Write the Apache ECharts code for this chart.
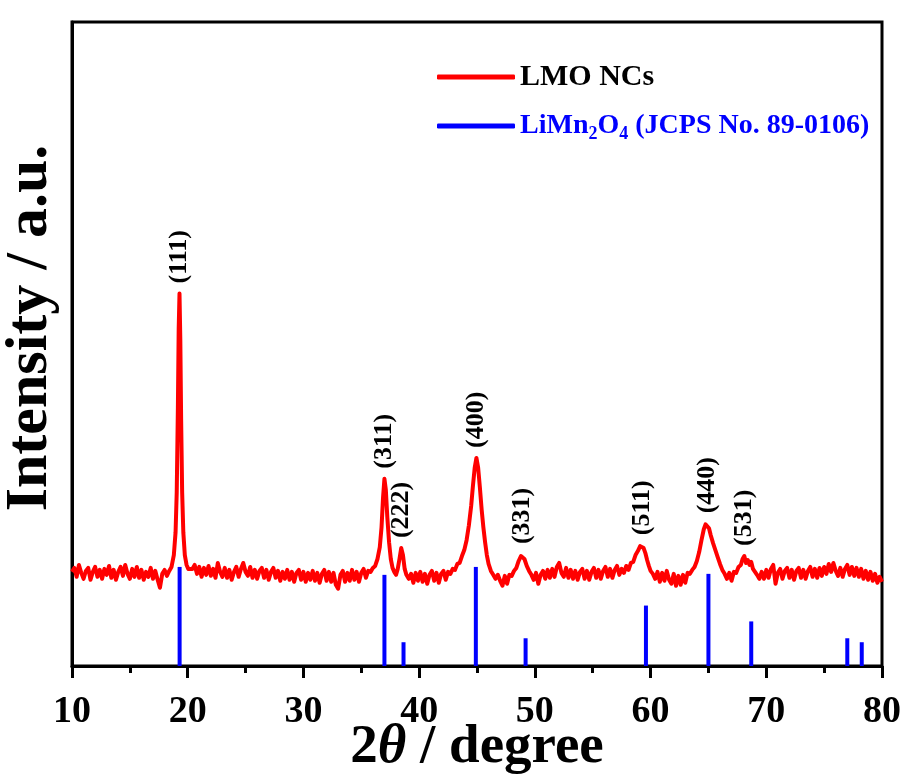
<!DOCTYPE html>
<html>
<head>
<meta charset="utf-8">
<script src="https://cdn.jsdelivr.net/npm/echarts@6/dist/echarts.min.js"></script>
<style>
html,body{margin:0;padding:0;background:#fff;}
#chart{width:906px;height:778px;}
</style>
</head>
<body>
<div id="chart"></div>
<script>
// ---- data ----
const sampleName = 'LMO NCs';
const refName = 'LiMn2O4 (JCPS No. 89-0106)';

// measured XRD pattern: [2theta, intensity (a.u.)]
const lmoPattern = [
[10.0,95],[10.2,99],[10.4,90],[10.6,102],[10.8,94],[11.0,88],[11.2,96],[11.4,99],[11.6,87],[11.8,95],
[12.0,100],[12.2,90],[12.4,97],[12.6,88],[12.8,98],[13.0,92],[13.2,101],[13.4,89],[13.6,97],[13.8,87],
[14.0,95],[14.2,100],[14.4,91],[14.6,102],[14.8,93],[15.0,88],[15.2,98],[15.4,90],[15.6,100],[15.8,89],
[16.0,97],[16.2,87],[16.4,95],[16.6,90],[16.8,99],[17.0,88],[17.2,96],[17.4,87],[17.6,79],[17.8,93],
[18.0,97],[18.2,91],
[18.4,96],[18.6,100],[18.8,112],[18.95,135],[19.05,175],[19.15,260],[19.22,340],[19.29,376],[19.36,330],
[19.43,250],[19.52,175],[19.62,135],[19.75,112],[19.9,102],[20.05,98],[20.2,96],
[20.4,98],[20.6,102],[20.8,93],[21.0,100],[21.2,90],[21.4,99],[21.6,92],[21.8,101],[22.0,91],[22.2,98],
[22.4,89],[22.6,104],[22.8,95],[23.0,90],[23.2,99],[23.4,89],[23.6,97],[23.8,87],[24.0,95],[24.2,100],
[24.4,90],[24.6,98],[24.8,104],[25.0,95],[25.2,91],[25.4,100],[25.6,89],[25.8,97],[26.0,88],[26.2,96],
[26.4,99],[26.6,89],[26.8,97],[27.0,87],[27.2,95],[27.4,99],[27.6,89],[27.8,96],[28.0,86],[28.2,95],
[28.4,88],[28.6,97],[28.8,87],[29.0,95],[29.2,85],[29.4,94],[29.6,97],[29.8,87],[30.0,95],[30.2,85],
[30.4,94],[30.6,87],[30.8,96],[31.0,86],[31.2,94],[31.4,84],[31.6,93],[31.8,97],[32.0,86],[32.2,95],
[32.4,85],[32.6,94],[32.8,82],[33.0,78],[33.2,92],[33.4,96],[33.6,85],[33.8,94],[34.0,86],[34.2,97],
[34.4,87],[34.6,95],[34.8,85],[35.0,94],[35.2,98],[35.4,89],[35.6,96],
[35.8,95],[36.0,99],[36.2,101],[36.4,108],[36.6,120],[36.75,140],[36.88,170],[37.0,189],[37.12,178],
[37.25,150],[37.4,125],[37.55,108],[37.7,99],[37.85,95],[38.0,92],[38.15,98],[38.3,108],[38.45,119],
[38.6,112],[38.75,98],[38.9,92],[39.1,88],
[39.3,93],[39.5,84],[39.7,94],[39.9,86],[40.1,95],[40.3,85],[40.5,93],[40.7,83],[40.9,92],[41.1,96],
[41.3,86],[41.5,94],[41.7,84],[41.9,93],[42.1,96],[42.3,87],[42.5,95],[42.7,93],
[42.9,98],[43.1,97],[43.3,103],[43.5,104],[43.7,111],[43.9,117],[44.1,127],[44.3,142],[44.5,162],
[44.65,182],[44.8,200],[44.95,210],[45.1,200],[45.25,180],[45.4,158],[45.55,140],[45.7,125],[45.85,112],
[46.0,103],[46.2,96],[46.4,92],
[46.6,88],[46.8,92],[47.0,86],[47.2,81],[47.4,91],[47.6,83],[47.8,92],
[48.0,91],[48.2,96],[48.4,99],[48.6,106],[48.8,111],[48.95,113],[49.1,108],[49.3,101],[49.5,96],[49.7,92],
[49.9,87],[50.1,94],[50.3,83],[50.5,92],[50.7,96],[50.9,88],[51.1,97],[51.3,89],[51.5,98],[51.7,90],
[51.9,100],[52.1,104],[52.3,94],[52.5,90],[52.7,99],[52.9,89],[53.1,97],[53.3,88],[53.5,96],[53.7,87],
[53.9,95],[54.1,98],[54.3,88],[54.5,96],[54.7,87],[54.9,95],[55.1,99],[55.3,89],[55.5,97],[55.7,88],
[55.9,96],[56.1,100],[56.3,90],[56.5,98],[56.7,89],[56.9,97],[57.1,101],[57.3,92],
[57.5,98],[57.7,94],[57.9,101],[58.1,97],[58.3,104],[58.5,105],[58.7,112],[58.9,116],[59.1,121],
[59.25,122],[59.4,119],[59.55,114],[59.7,107],[59.85,101],[60.0,96],[60.2,93],
[60.4,88],[60.6,95],[60.8,85],[61.0,94],[61.2,86],[61.4,96],[61.6,87],[61.8,83],[62.0,93],[62.2,81],
[62.4,91],[62.6,82],[62.8,92],[63.0,84],[63.2,94],
[63.4,93],[63.6,97],[63.8,100],[64.0,106],[64.2,115],[64.4,127],[64.6,138],[64.75,143],[64.9,144],
[65.05,139],[65.2,132],[65.4,124],[65.6,117],[65.8,110],[66.0,103],[66.2,97],[66.4,93],
[66.6,88],[66.8,94],[67.0,86],[67.2,95],
[67.4,94],[67.6,100],[67.8,102],[67.95,108],[68.1,111],[68.25,104],[68.4,107],[68.55,102],[68.7,105],
[68.85,98],[69.0,98],[69.2,92],
[69.4,88],[69.6,95],[69.8,88],[70.0,97],[70.2,89],[70.4,98],[70.6,102],[70.8,83],[71.0,94],[71.2,98],
[71.4,88],[71.6,96],[71.8,99],[72.0,89],[72.2,97],[72.4,87],[72.6,96],[72.8,99],[73.0,89],[73.2,97],
[73.4,88],[73.6,96],[73.8,100],[74.0,90],[74.2,98],[74.4,89],[74.6,99],[74.8,91],[75.0,100],[75.2,93],
[75.4,103],[75.6,95],[75.8,104],[76.0,96],[76.2,91],[76.4,99],[76.6,90],[76.8,98],[77.0,102],[77.2,92],
[77.4,100],[77.6,91],[77.8,99],[78.0,90],[78.2,98],[78.4,88],[78.6,96],[78.8,87],[79.0,95],[79.2,86],
[79.4,93],[79.6,84],[79.8,90],[80.0,85]
];

// reference (JCPDS) stick pattern
const refPositions = [19.3, 37.0, 38.65, 44.9, 49.2, 59.6, 65.0, 68.7, 77.0, 78.25];
const refIntensity = [100, 92, 24, 100, 28, 61, 93, 45, 28, 24];

// peak indexing labels
const peakLabels = ['(111)', '(311)', '(222)', '(400)', '(331)', '(511)', '(440)', '(531)'];
const peakPositions = [19.29, 37.0, 38.45, 44.95, 48.95, 59.25, 64.9, 68.1];
const peakHeights = [376, 189, 119, 210, 113, 122, 144, 111];

// axis
const xMin = 10, xMax = 80, xStep = 10;
const yMin = 0, yMax = 650;

// ---- chart ----
const FONT = '"Liberation Serif", "Times New Roman", serif';
const chart = echarts.init(document.getElementById('chart'), null, {renderer: 'canvas'});

const refData = refPositions.map((p, i) => [p, refIntensity[i]]);
const labelData = peakPositions.map((p, i) => [p, peakHeights[i], peakLabels[i]]);

chart.setOption({
  backgroundColor: '#ffffff',
  animation: false,
  grid: {
    left: 72, right: 24, top: 22, bottom: 112,
    outerBoundsMode: 'none',
    containLabel: false,
    show: true, borderColor: '#000', borderWidth: 3, backgroundColor: 'transparent'
  },
  legend: {
    orient: 'vertical',
    left: 437, top: 62,
    padding: 0,
    itemWidth: 78, itemHeight: 5, itemGap: 20,
    icon: 'roundRect',
    selectedMode: false,
    data: [
      {name: sampleName},
      {name: refName}
    ],
    formatter: function (name) {
      if (name === refName) {
        return '{b|LiMn}{bs|2}{b|O}{bs|4}{b| (JCPS No. 89-0106)}';
      }
      return '{k|' + name + '}';
    },
    textStyle: {
      fontFamily: FONT, fontWeight: 'bold', fontSize: 30,
      rich: {
        k: {fontFamily: FONT, fontWeight: 'bold', fontSize: 30, color: '#000', lineHeight: 34},
        b: {fontFamily: FONT, fontWeight: 'bold', fontSize: 28, color: '#0000ff', lineHeight: 34},
        bs: {fontFamily: FONT, fontWeight: 'bold', fontSize: 18, color: '#0000ff', lineHeight: 18, verticalAlign: 'bottom'}
      }
    }
  },
  xAxis: {
    type: 'value',
    min: xMin, max: xMax, interval: xStep,
    name: '{n|2}{i|θ}{n| / degree}',
    nameLocation: 'middle',
    nameGap: 54,
    nameMoveOverlap: false,
    nameTextStyle: {
      rich: {
        n: {fontFamily: FONT, fontWeight: 'bold', fontSize: 55, color: '#000'},
        i: {fontFamily: FONT, fontWeight: 'bold', fontStyle: 'italic', fontSize: 55, color: '#000'}
      }
    },
    axisLine: {show: true, onZero: false, lineStyle: {color: '#000', width: 3}},
    axisTick: {show: true, inside: false, length: 12, lineStyle: {color: '#000', width: 3}},
    minorTick: {show: true, splitNumber: 2, length: 7, lineStyle: {color: '#000', width: 3}},
    axisLabel: {
      show: true, margin: 27,
      fontFamily: FONT, fontWeight: 'bold', fontSize: 38, color: '#000'
    },
    splitLine: {show: false}
  },
  yAxis: {
    type: 'value',
    min: yMin, max: yMax,
    name: 'Intensity / a.u.',
    nameLocation: 'middle',
    nameRotate: 90,
    nameGap: 12,
    nameMoveOverlap: false,
    nameTextStyle: {
      fontFamily: FONT, fontWeight: 'bold', fontSize: 60, color: '#000',
      padding: [0, 0, 0, 32]
    },
    axisLine: {show: true, lineStyle: {color: '#000', width: 3}},
    axisTick: {show: false},
    axisLabel: {show: false},
    splitLine: {show: false}
  },
  series: [
    {
      name: sampleName,
      type: 'line',
      data: lmoPattern,
      showSymbol: false,
      symbol: 'none',
      lineStyle: {color: '#ff0000', width: 4, join: 'round'},
      itemStyle: {color: '#ff0000'},
      z: 2
    },
    {
      name: refName,
      type: 'bar',
      data: refData,
      barWidth: 4,
      itemStyle: {color: '#0000ff'},
      z: 3
    },
    {
      name: 'labels',
      type: 'scatter',
      data: labelData,
      symbolSize: 0,
      silent: true,
      itemStyle: {opacity: 1, color: '#000'},
      label: {
        show: true,
        position: 'top',
        distance: 10,
        rotate: 90,
        align: 'left',
        verticalAlign: 'middle',
        opacity: 1,
        formatter: p => p.data[2],
        fontFamily: FONT, fontWeight: 'bold', fontSize: 26, color: '#000'
      },
      z: 4
    }
  ]
});
</script>
</body>
</html>
